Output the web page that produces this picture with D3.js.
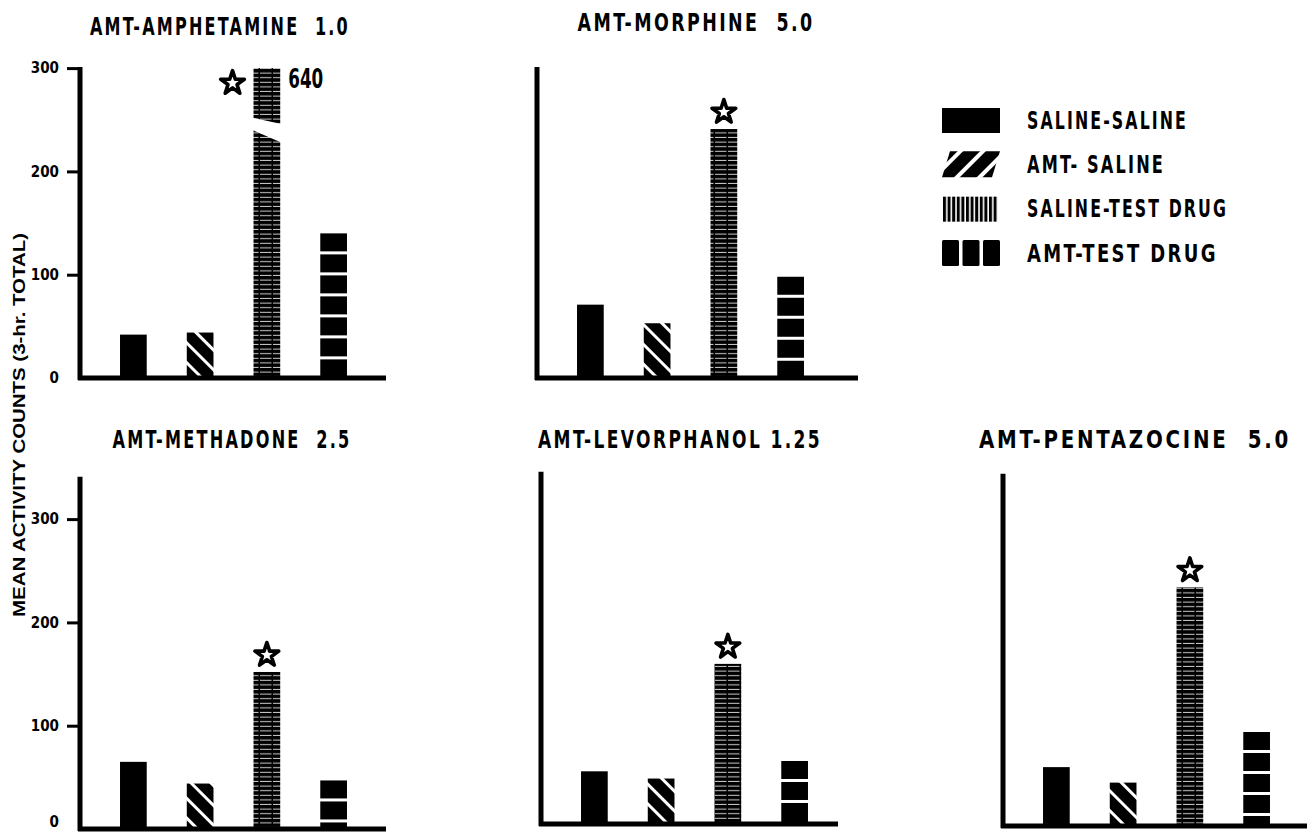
<!DOCTYPE html>
<html lang="en">
<head>
  <meta charset="UTF-8">
  <title>AMT pretreatment and activity counts</title>
  <script src="https://d3js.org/d3.v7.min.js"></script>
  <style>
    body { margin: 0; background: #fff; }
    svg { display: block; }
    .cond { font-family: "DejaVu Sans Condensed", "DejaVu Sans", sans-serif; font-weight: bold; white-space: pre; }
    .tick text { font-family: "DejaVu Sans Condensed", "DejaVu Sans", sans-serif; font-weight: bold; font-size: 15px; }
  </style>
</head>
<body>
  <div id="chart"></div>

  <script>
    // groups (treatment sequence) and one value per drug panel
    const groups = ["SALINE-SALINE", "AMT- SALINE", "SALINE-TEST DRUG", "AMT-TEST DRUG"];
    const drugs = ["AMT-AMPHETAMINE  1.0", "AMT-MORPHINE  5.0", "AMT-METHADONE  2.5",
                   "AMT-LEVORPHANOL 1.25", "AMT-PENTAZOCINE  5.0"];
    const salineSaline = [42, 71, 65, 51, 57];
    const amtSaline    = [44, 53, 44, 44, 42];
    const salineTest   = [640, 241, 152, 155, 231];
    const amtTest      = [140, 98, 47, 61, 91];
    const starred      = [true, true, true, true, true];   // star over saline-test drug bar
    const yTicks = [0, 100, 200, 300];
    const axisBreak = [252, 246, 228, 240];  // broken-bar cut (left top, right top, right bottom, left bottom)

    const W = 1307, H = 832;
    const pxPer100 = 103.3;

    // where each panel sits on the page (tw = title width)
    const layout = [
      { ax: 80,   zero: 378, yMax: 300, end: 386,  axis: true,  tx: 220,  ty: 35,  tw: 260 },
      { ax: 537,  zero: 378, yMax: 300, end: 858,  axis: false, tx: 696,  ty: 31,  tw: 237 },
      { ax: 80,   zero: 829, yMax: 340, end: 386,  axis: true,  tx: 232,  ty: 448, tw: 239 },
      { ax: 541,  zero: 824, yMax: 340, end: 838,  axis: false, tx: 680,  ty: 448, tw: 284 },
      { ax: 1003, zero: 826, yMax: 340, end: 1307, axis: false, tx: 1135, ty: 448, tw: 312 }
    ];
    const legendWidths = [161, 138, 201, 191];

    const svg = d3.select("#chart").append("svg")
      .attr("width", W).attr("height", H);

    const defs = svg.append("defs");

    // diagonal stripes for AMT-saline bars (\ direction)
    const diag = defs.append("pattern").attr("id", "diag")
      .attr("patternUnits", "userSpaceOnUse").attr("width", 14).attr("height", 14)
      .attr("patternTransform", "rotate(-45)");
    diag.append("rect").attr("width", 14).attr("height", 14).attr("fill", "#000");
    diag.append("rect").attr("x", 0).attr("width", 3).attr("height", 14).attr("fill", "#fff");

    // legend version, / direction
    const diagL = defs.append("pattern").attr("id", "diagL")
      .attr("patternUnits", "userSpaceOnUse").attr("width", 16).attr("height", 16)
      .attr("patternTransform", "rotate(45)");
    diagL.append("rect").attr("width", 16).attr("height", 16).attr("fill", "#000");
    diagL.append("rect").attr("x", 0).attr("width", 4).attr("height", 16).attr("fill", "#fff");

    // fine horizontal lines for saline-test drug bars
    const lines = defs.append("pattern").attr("id", "lines")
      .attr("patternUnits", "userSpaceOnUse").attr("width", 13).attr("height", 4.6);
    lines.append("rect").attr("width", 13).attr("height", 4.6).attr("fill", "#000");
    lines.append("rect").attr("y", 3.6).attr("width", 11.5).attr("height", 0.8).attr("fill", "#fff");

    // vertical lines for the legend swatch
    const vlines = defs.append("pattern").attr("id", "vlines")
      .attr("patternUnits", "userSpaceOnUse").attr("width", 4.6).attr("height", 30);
    vlines.append("rect").attr("width", 3).attr("height", 30).attr("fill", "#000");

    const star = d3.symbol(d3.symbolStar).size(175);

    const drawStar = (g, cx, cy) => g.append("path").attr("d", star)
      .attr("transform", `translate(${cx},${cy})`)
      .attr("fill", "#fff").attr("stroke", "#000").attr("stroke-width", 3.6)
      .attr("stroke-linejoin", "round");

    drugs.forEach((drug, i) => {
      const L = layout[i];
      const g = svg.append("g");
      const vals = [salineSaline[i], amtSaline[i], salineTest[i], amtTest[i]];

      const y = d3.scaleLinear().domain([0, L.yMax])
        .range([L.zero, L.zero - L.yMax * pxPer100 / 100]);
      const x = d3.scaleBand().domain(groups)
        .range([L.ax + 20, L.ax + 287]).paddingInner(0.6).paddingOuter(0.3);

      // title
      g.append("text").attr("class", "cond")
        .attr("x", L.tx).attr("y", L.ty)
        .attr("text-anchor", "middle")
        .attr("textLength", L.tw).attr("lengthAdjust", "spacingAndGlyphs")
        .style("font-size", "24px").style("letter-spacing", "3px")
        .text(drug);

      // bars
      vals.forEach((v, k) => {
        const grp = groups[k];
        const shown = Math.min(v, L.yMax);
        const x0 = x(grp), bw = x.bandwidth();
        const fill = k === 0 ? "#000" : k === 1 ? "url(#diag)" : k === 2 ? "url(#lines)" : "#000";
        g.append("rect")
          .attr("x", x0).attr("y", y(shown))
          .attr("width", bw).attr("height", y(0) - y(shown))
          .attr("fill", fill);

        if (k === 3) {
          // white gaps between the blocks
          const top = y(shown), bottom = y(0);
          d3.range(top + 18, bottom - 4, 21).forEach(gy => {
            g.append("rect").attr("x", x0 - 1).attr("y", gy)
              .attr("width", bw + 2).attr("height", 3).attr("fill", "#fff");
          });
        }

        if (k === 2) {
          if (v > L.yMax) {
            // broken bar, true value written beside it
            g.append("polygon")
              .attr("points", [
                [x0 - 1, y(axisBreak[0])], [x0 + bw + 1, y(axisBreak[1])],
                [x0 + bw + 1, y(axisBreak[2])], [x0 - 1, y(axisBreak[3])]
              ].join(" "))
              .attr("fill", "#fff");
            g.append("text").attr("class", "cond")
              .attr("x", x0 + bw + 8).attr("y", y(L.yMax) + 20)
              .attr("textLength", 35).attr("lengthAdjust", "spacingAndGlyphs")
              .style("font-size", "27px")
              .text(v);
            if (starred[i]) drawStar(g, x0 - 21, y(L.yMax) + 15);
          } else if (starred[i]) {
            drawStar(g, x0 + bw / 2, y(shown) - 17);
          }
        }
      });

      // axes: heavy L frame
      g.append("line")
        .attr("x1", L.ax).attr("x2", L.ax)
        .attr("y1", y(L.yMax) - 1).attr("y2", L.zero + 2)
        .attr("stroke", "#000").attr("stroke-width", 5);
      g.append("line")
        .attr("x1", L.ax - 2).attr("x2", L.end)
        .attr("y1", L.zero).attr("y2", L.zero)
        .attr("stroke", "#000").attr("stroke-width", 5);

      if (L.axis) {
        const ax = g.append("g")
          .attr("transform", `translate(${L.ax - 2},0)`)
          .call(d3.axisLeft(y).tickValues(yTicks).tickSize(11).tickPadding(8).tickFormat(d3.format("d")));
        ax.select(".domain").remove();
        ax.selectAll(".tick line").attr("stroke", "#000").attr("stroke-width", 3)
          .filter(d => d === 0).remove();
        ax.selectAll(".tick text").attr("fill", "#000")
          .filter(d => d === 0).attr("dy", L.zero > 800 ? "-0.15em" : "0.32em");
      }
    });

    // y axis title
    svg.append("text")
      .attr("transform", "translate(25,425) rotate(-90)")
      .attr("text-anchor", "middle")
      .attr("textLength", 384).attr("lengthAdjust", "spacingAndGlyphs")
      .style("font-family", "'Liberation Sans', Arial, sans-serif")
      .style("font-weight", "bold").style("font-size", "16px")
      .text("MEAN ACTIVITY COUNTS (3-hr. TOTAL)");

    // legend
    const legendY = d3.scalePoint().domain(groups).range([120, 253]);
    const legend = svg.append("g");
    groups.forEach((grp, k) => {
      const cy = legendY(grp);
      if (k === 0) {
        legend.append("rect").attr("x", 942).attr("y", cy - 12).attr("width", 58).attr("height", 25).attr("fill", "#000");
      } else if (k === 1) {
        legend.append("path")
          .attr("d", `M950,${cy - 13}H1000L992,${cy + 13}H942Z`).attr("fill", "url(#diagL)");
      } else if (k === 2) {
        legend.append("rect").attr("x", 942).attr("y", cy - 12).attr("width", 56).attr("height", 25).attr("fill", "url(#vlines)");
      } else {
        d3.range(3).forEach(b => {
          legend.append("rect").attr("x", 942 + b * 20.5).attr("y", cy - 13)
            .attr("width", 17).attr("height", 26).attr("rx", 1.5).attr("fill", "#000");
        });
      }
      legend.append("text").attr("class", "cond")
        .attr("x", 1027).attr("y", cy + 8.5)
        .attr("textLength", legendWidths[k]).attr("lengthAdjust", "spacingAndGlyphs")
        .style("font-size", "25px").style("letter-spacing", "3px")
        .text(grp);
    });
  </script>
</body>
</html>
